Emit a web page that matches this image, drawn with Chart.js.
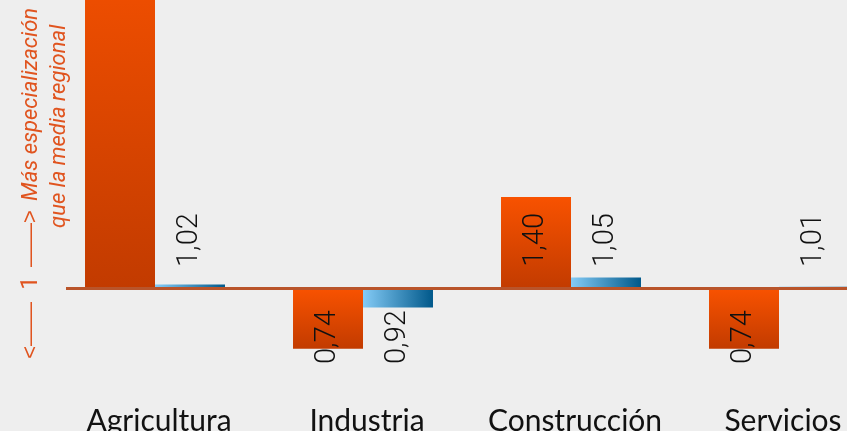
<!DOCTYPE html>
<html>
<head>
<meta charset="utf-8">
<script src="https://cdn.jsdelivr.net/npm/chart.js@4"></script>
<style>
  html, body { margin: 0; padding: 0; background: #eeeeee; overflow: hidden; }
  #wrap { position: absolute; left: 0; top: 0; width: 900px; height: 460px; }
</style>
</head>
<body>
<div id="wrap"><canvas id="chart"></canvas></div>
<script>
// datos
const categories = ['Agricultura', 'Industria', 'Construcción', 'Servicios'];
const comarca = [2.60, 0.74, 1.40, 0.74];
const media = [1.02, 0.92, 1.05, 1.01];
const baseValue = 1;
const axisNote = ['Más especialización', 'que la media regional'];

const catPct = 0.673;
const noteColor = '#e0541f';

function fmt(v) {
  return v.toFixed(2).replace('.', ',');
}

function orangeFill(c) {
  const chart = c.chart;
  if (!chart.chartArea || c.raw === undefined) return '#d84400';
  const y = chart.scales.y;
  const top = y.getPixelForValue(Math.max(c.raw, baseValue));
  const bot = y.getPixelForValue(Math.min(c.raw, baseValue));
  const g = chart.ctx.createLinearGradient(0, top, 0, bot);
  g.addColorStop(0, '#f85200');
  g.addColorStop(1, '#c23b00');
  return g;
}

function blueFill(c) {
  const chart = c.chart;
  if (!chart.chartArea || c.raw === undefined) return '#3a8fc4';
  const x = chart.scales.x;
  const center = x.getPixelForValue(c.dataIndex);
  const w = x.width / categories.length * catPct / 2;
  const g = chart.ctx.createLinearGradient(center, 0, center + w, 0);
  g.addColorStop(0, '#84cbf6');
  g.addColorStop(1, '#00588a');
  return g;
}

// linea del 1 y textos del eje
const extras = {
  id: 'extras',
  afterDatasetsDraw(chart) {
    const ctx = chart.ctx;
    const yb = Math.round(chart.scales.y.getPixelForValue(baseValue));
    ctx.save();
    ctx.fillStyle = '#b9542a';
    ctx.fillRect(66, yb - 2, chart.width, 3);

    // etiquetas de valor
    ctx.fillStyle = '#111';
    ctx.font = '300 29px Roboto';
    ctx.textBaseline = 'middle';
    chart.data.datasets.forEach((ds, i) => {
      chart.getDatasetMeta(i).data.forEach((el, j) => {
        const v = ds.data[j];
        const h = Math.abs(el.base - el.y);
        ctx.save();
        ctx.translate(el.x, 0);
        ctx.rotate(-Math.PI / 2);
        if (v >= baseValue && h > 80) {
          ctx.textAlign = 'right';
          ctx.fillText(fmt(v), -(el.y + 16), 0);
        } else if (v >= baseValue) {
          ctx.textAlign = 'left';
          ctx.fillText(fmt(v), -(yb - 22), 0);
        } else {
          ctx.textAlign = 'left';
          ctx.fillText(fmt(v), -(yb + 75), 0);
        }
        ctx.restore();
      });
    });

    // notas a la izquierda
    ctx.fillStyle = noteColor;
    ctx.textBaseline = 'alphabetic';
    ctx.save();
    ctx.translate(37, 0);
    ctx.rotate(-Math.PI / 2);
    ctx.font = '22px "Liberation Sans"';
    ctx.textAlign = 'left';
    ctx.fillText('——>', -267, 0);
    ctx.textAlign = 'right';
    ctx.fillText('<——', -302, 0);
    ctx.font = '24px Roboto';
    ctx.textAlign = 'center';
    ctx.fillText('1', -283, 0);
    ctx.font = 'italic 22px Roboto';
    ctx.textAlign = 'left';
    ctx.fillText(axisNote[0], -201, 0);
    ctx.restore();
    ctx.save();
    ctx.translate(65, 0);
    ctx.rotate(-Math.PI / 2);
    ctx.font = 'italic 22px Roboto';
    ctx.textAlign = 'left';
    ctx.fillText(axisNote[1], -228, 0);
    ctx.restore();
    ctx.restore();
  }
};

const pxPerUnit = 230;
const baseY = 289;
const areaBottom = 400;

new Chart(document.getElementById('chart'), {
  type: 'bar',
  data: {
    labels: categories,
    datasets: [
      { label: 'Comarca', data: comarca, base: baseValue, backgroundColor: orangeFill },
      { label: 'Media', data: media, base: baseValue, backgroundColor: blueFill }
    ]
  },
  options: {
    responsive: true,
    maintainAspectRatio: false,
    devicePixelRatio: 1,
    animation: false,
    layout: { padding: { left: 51, right: 17, top: 0, bottom: 0 } },
    datasets: { bar: { barPercentage: 1, categoryPercentage: catPct } },
    plugins: { legend: { display: false }, tooltip: { enabled: false } },
    scales: {
      x: {
        grid: { display: false, drawTicks: false },
        border: { display: false },
        ticks: { font: { family: 'Lato', size: 30 }, color: '#111', padding: 3, labelOffset: 4, maxRotation: 0 },
        afterFit(scale) { scale.height = 460 - areaBottom; }
      },
      y: {
        display: false,
        min: baseValue - (areaBottom - baseY) / pxPerUnit,
        max: baseValue + baseY / pxPerUnit
      }
    }
  },
  plugins: [extras]
});
</script>
</body>
</html>
